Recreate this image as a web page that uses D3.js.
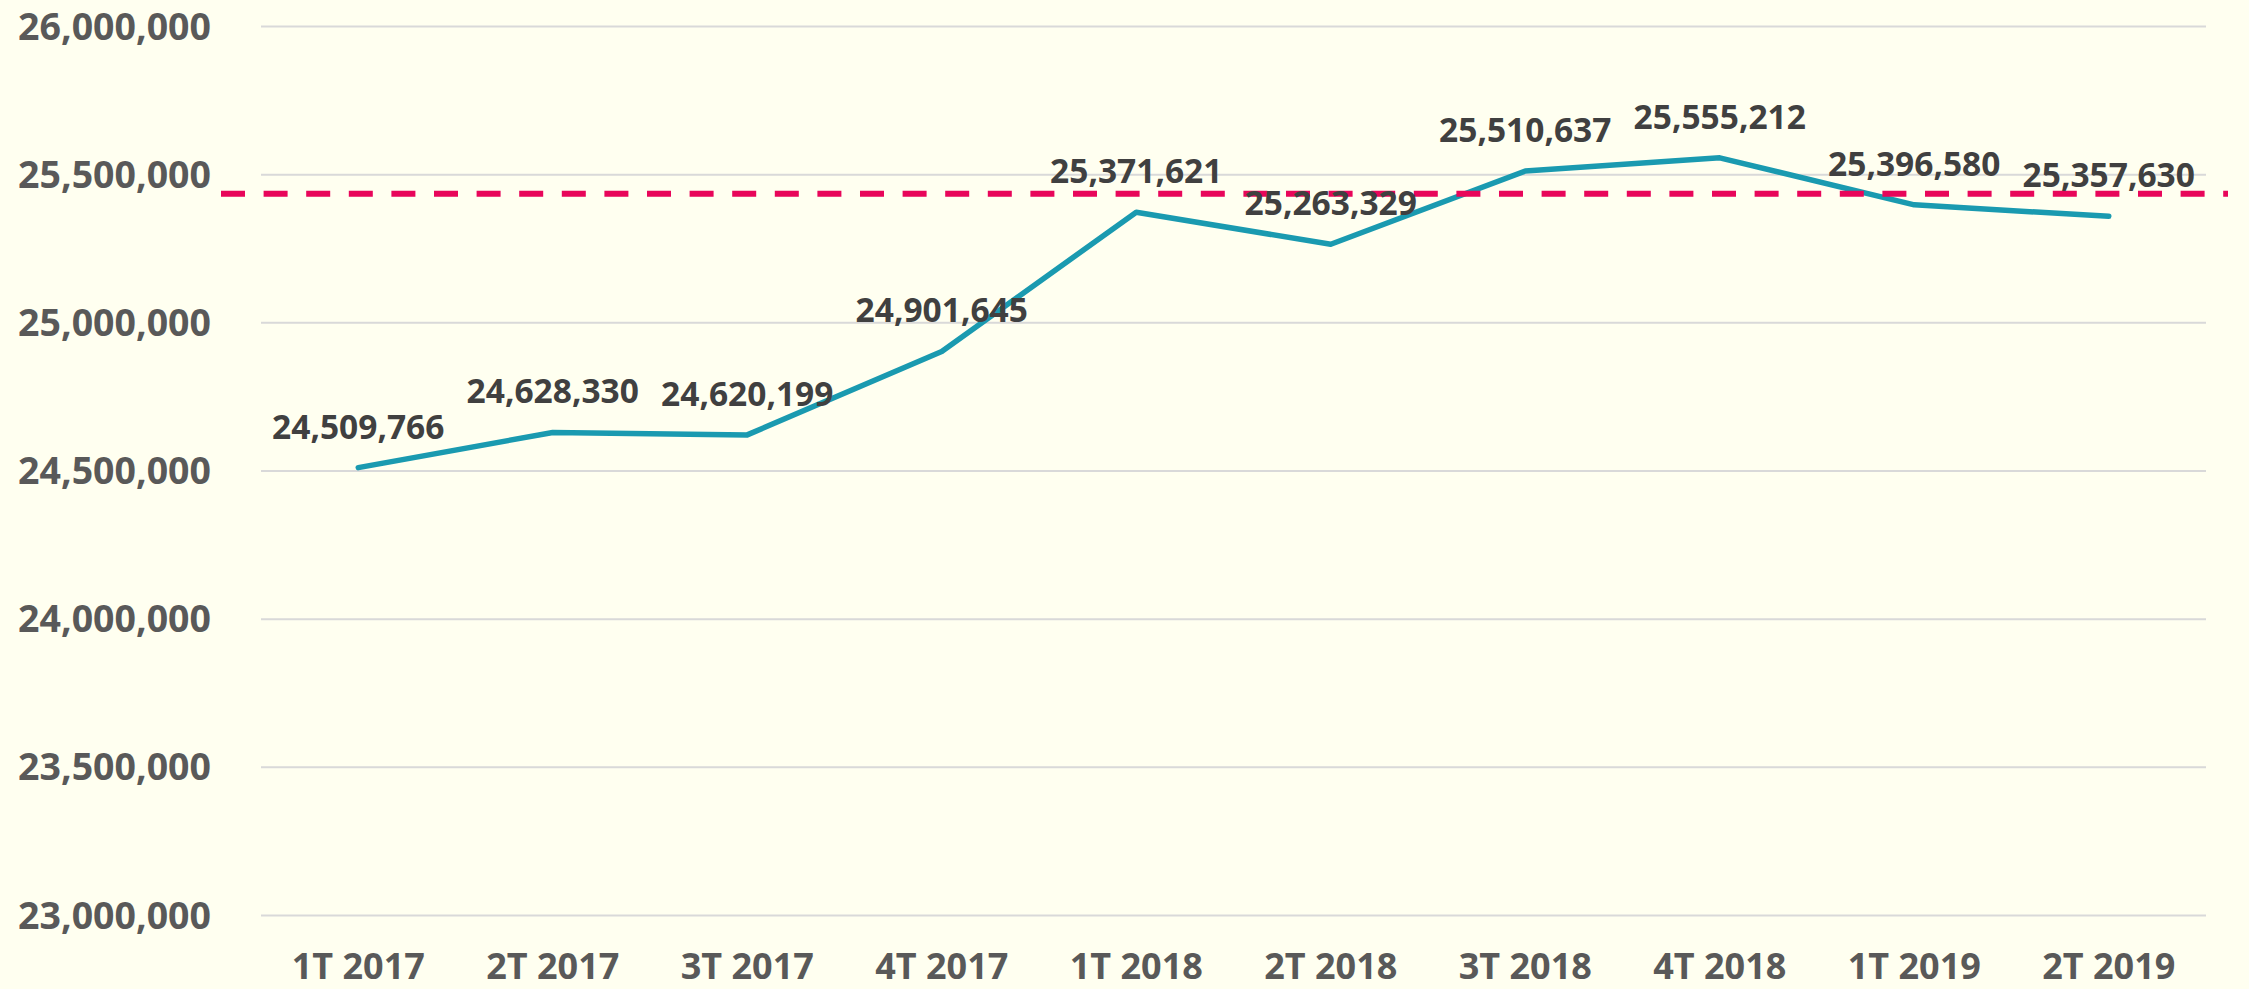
<!DOCTYPE html>
<html>
<head>
<meta charset="utf-8">
<script src="https://cdn.jsdelivr.net/npm/d3@7"></script>
<style>
	html, body { margin: 0; padding: 0; background: #fffff0; }
	svg { display: block; }
	text { font-family: "Open Sans", sans-serif; font-weight: bold; }
</style>
</head>
<body>
<div id="container"></div>
<script>
var width = 2249, height = 989;

var quarters = ["1T 2017", "2T 2017", "3T 2017", "4T 2017", "1T 2018", "2T 2018", "3T 2018", "4T 2018", "1T 2019", "2T 2019"];
var values = [24509766, 24628330, 24620199, 24901645, 25371621, 25263329, 25510637, 25555212, 25396580, 25357630];
var yTicks = [23000000, 23500000, 24000000, 24500000, 25000000, 25500000, 26000000];
var target = 25434000;

var data = quarters.map(function(q, i){ return {q: q, v: values[i]}; });

var xScale = d3.scaleBand().domain(quarters).range([261, 2206]);
var yScale = d3.scaleLinear().domain([23000000, 26000000]).range([915, 26]);
var fmt = d3.format(",");

var cx = function(d){ return xScale(d.q) + xScale.bandwidth() / 2; };

function drawAxis(svg) {
	var _yAxis = d3.axisLeft(yScale).tickValues(yTicks).tickFormat(fmt)
		.tickSize(-(2206 - 261)).tickPadding(50);
	var gy = svg.append('g')
		.attr('transform', 'translate(261,0)')
		.call(_yAxis)
		.classed('yAxis', true);
	gy.select('.domain').remove();
	gy.selectAll('line').attr('stroke', '#d9d9d9').attr('stroke-width', 2);
	gy.selectAll('text').attr('fill', '#595959').attr('font-size', 37.5).attr('dy', '0.35em');

	// category labels, baseline kept just inside the bottom edge
	var _xAxis = d3.axisBottom(xScale).tickSize(0).tickPadding(0);
	var gx = svg.append('g')
		.attr('transform', 'translate(0,979)')
		.call(_xAxis)
		.classed('xAxis', true);
	gx.select('.domain').remove();
	gx.selectAll('text').attr('fill', '#595959').attr('font-size', 36).attr('dy', 0);
}

var line = d3.line()
	.x(cx)
	.y(function(d){ return yScale(d.v); });

function visualize() {
	var svg = d3.select('#container')
		.append('svg')
		.attr('width', width)
		.attr('height', height);
	svg.append('rect').attr('width', width).attr('height', height).attr('fill', '#fffff0');

	drawAxis(svg);

	svg.append('path')
		.attr('d', line(data))
		.attr('stroke', '#1a9ab0')
		.attr('stroke-width', 5.5)
		.attr('stroke-linejoin', 'round')
		.attr('stroke-linecap', 'round')
		.attr('fill', 'none');

	svg.append('line')
		.attr('x1', 221).attr('x2', 2228)
		.attr('y1', yScale(target)).attr('y2', yScale(target))
		.attr('stroke', '#e8065a')
		.attr('stroke-width', 6)
		.attr('stroke-dasharray', '24,18.6');

	svg.selectAll('text.lbl').data(data).enter()
		.append('text')
		.classed('lbl', true)
		.attr('x', cx)
		.attr('y', function(d){ return yScale(d.v) - 29; })
		.attr('text-anchor', 'middle')
		.attr('fill', '#404040')
		.attr('font-size', 33.5)
		.text(function(d){ return fmt(d.v); });
}

window.onload = visualize;
</script>
</body>
</html>
